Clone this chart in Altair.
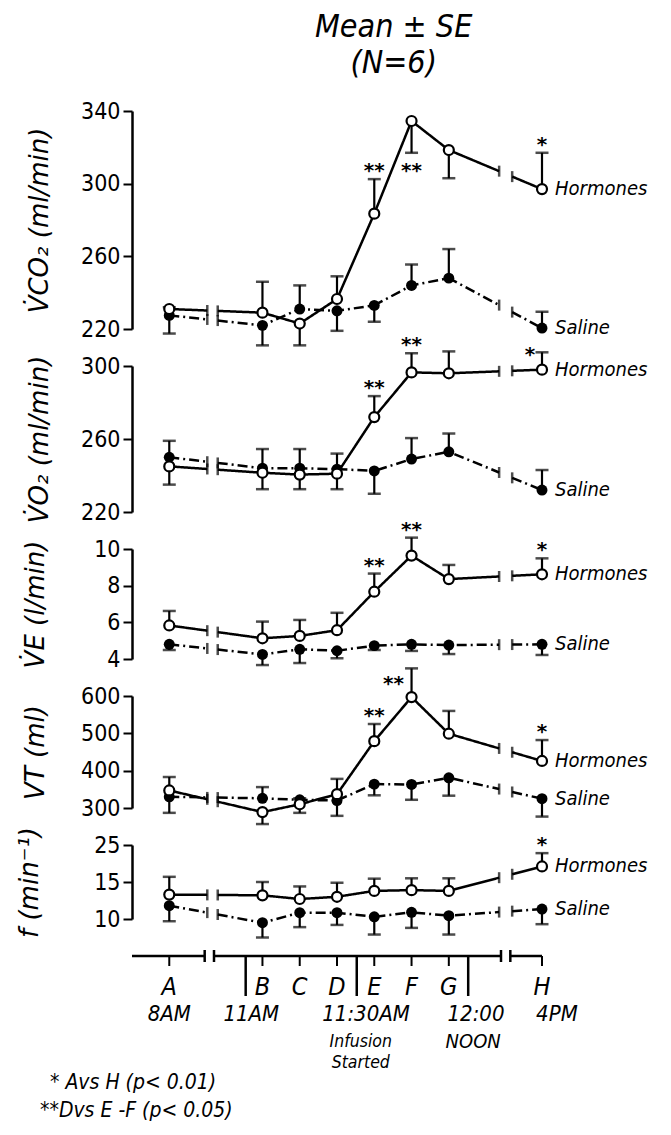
import altair as alt
import numpy as np
import pandas as pd

# ------------------------------------------------------------------ data
letters = ["A", "B", "C", "D", "E", "F", "G", "H"]
# place of each sampling time on the (broken) time axis
time_pos = [0.0, 2.5, 3.5, 4.5, 5.5, 6.5, 7.5, 10.0]

# VCO2 (ml/min): means and the end of each SE bar
vco2_hormones = [231, 229, 223, 236.5, 283.5, 334.5, 318.5, 297]
vco2_hormones_se = [232, 246, 211, 249, 302.5, 317, 303, 317]
vco2_saline = [227.5, 222, 231, 230, 233, 244, 248, 220.5]
vco2_saline_se = [217.5, 211, 244, 219, 224, 255.5, 264, 229.5]

# VO2 (ml/min)
vo2_hormones = [245, 241.5, 240.5, 241, 272, 296.5, 296, 298]
vo2_hormones_se = [235, 232.5, 232.5, 232.5, 283.5, 307, 308, 307.5]
vo2_saline = [250, 244, 244, 243.5, 242.5, 249, 253, 232]
vo2_saline_se = [259, 254.5, 254.5, 252, 230, 260.5, 263, 243]

# VE (l/min)
ve_hormones = [5.83, 5.13, 5.26, 5.57, 7.67, 9.64, 8.36, 8.62]
ve_hormones_se = [6.62, 6.04, 6.13, 6.52, 8.66, 10.62, 9.13, 9.49]
ve_saline = [4.8, 4.25, 4.53, 4.45, 4.73, 4.8, 4.76, 4.8]
ve_saline_se = [4.49, 3.67, 3.78, 4.04, 4.49, 4.44, 4.27, 4.22]

# VT (ml)
vt_hormones = [347, 289, 310, 337, 479, 597, 499, 426]
vt_hormones_se = [383, 257, 287, 378, 525, 674, 560, 482]
vt_saline = [330, 326, 322, 320, 364, 363, 381, 325]
vt_saline_se = [287, 356, 326, 279, 334, 322, 333, 277]

# f (min-1)
f_hormones = [13.3, 13.2, 12.7, 13.0, 13.8, 13.9, 13.8, 17.1]
f_hormones_se = [15.7, 15.0, 14.4, 14.9, 15.45, 15.5, 15.5, 18.9]
f_saline = [11.8, 9.5, 10.85, 10.85, 10.3, 10.9, 10.45, 11.35]
f_saline_se = [9.7, 7.5, 8.9, 9.2, 7.9, 8.8, 7.9, 9.3]

# significance marks on the Hormones series
vco2_sig = {"E": "**", "F": "**", "H": "*"}
vo2_sig = {"E": "**", "F": "**", "H": "*"}
ve_sig = {"E": "**", "F": "**", "H": "*"}
vt_sig = {"E": "**", "F": "**", "H": "*"}
f_sig = {"H": "*"}

# bottom time axis
clock_ticks = [2.05, 5.03, 8.02]                 # 11AM, 11:30AM, 12:00
clock_labels = ["8AM", "11AM", "11:30AM", "12:00", "4PM"]
clock_label_pos = [0.0, 2.2, 5.28, 8.23, 10.4]
footnotes = ["* Avs H (p< 0.01)", "**Dvs E  -F (p< 0.05)"]

# ------------------------------------------------------------------ style
FONT = "Liberation Sans Narrow, DejaVu Sans Condensed, sans-serif"
TFONT = "DejaVu Sans, sans-serif"
W = 410
XDOM = [-1, 10]
LINE_BREAKS = [(1.02, 1.3), (8.85, 9.2)]
AXIS_BREAKS = [(0.95, 1.2), (8.9, 9.15)]

xs = alt.Scale(domain=XDOM, nice=False, zero=False)


def segments(vals):
    x = np.array(time_pos)
    y = np.array(vals, dtype=float)

    def yi(t):
        return float(np.interp(t, x, y))

    (b1l, b1r), (b2l, b2r) = LINE_BREAKS
    segs = [
        [(x[0], y[0]), (b1l, yi(b1l))],
        [(b1r, yi(b1r))] + [(x[i], y[i]) for i in range(1, 7)] + [(b2l, yi(b2l))],
        [(b2r, yi(b2r)), (x[7], y[7])],
    ]
    rows, ticks = [], []
    for k, s in enumerate(segs):
        for px, py in s:
            rows.append({"seg": k, "pos": px, "value": py})
    for t in (b1l, b1r, b2l, b2r):
        ticks.append({"pos": t, "value": yi(t)})
    return rows, ticks


def panel(h, h_se, s, s_se, domain, ticks, title, height, sig,
          label_expr=None, title_x=-93, sig_shift=None):
    sig_shift = sig_shift or {}
    rows = []
    for series, vals, se in (("Hormones", h, h_se), ("Saline", s, s_se)):
        for L, p, v, e in zip(letters, time_pos, vals, se):
            rows.append({"series": series, "letter": L, "pos": p,
                         "value": v, "se_end": e})
    pts = pd.DataFrame(rows)

    seg_rows, tick_rows = [], []
    for series, vals in (("Hormones", h), ("Saline", s)):
        r, t = segments(vals)
        for d in r:
            d["series"] = series
        for d in t:
            d["series"] = series
        seg_rows += r
        tick_rows += t
    segdf = pd.DataFrame(seg_rows)
    segdf["key"] = segdf["series"] + segdf["seg"].astype(str)
    brk = pd.DataFrame(tick_rows)

    ysc = alt.Scale(domain=domain, nice=False, zero=False)
    axis_kw = dict(values=ticks, title=title, titleX=title_x, titleY=height / 2,
                   titleAngle=270, titleAlign="center", titleBaseline="middle",
                   titleFont=TFONT, titleFontSize=26, titleFontStyle="italic",
                   titleFontWeight="normal", titleColor="black",
                   labelFont=FONT, labelFontSize=23, labelColor="black",
                   labelPadding=3, domainColor="black", domainWidth=2.5,
                   tickColor="black", tickWidth=2, tickSize=9, grid=False)
    if label_expr:
        axis_kw["labelExpr"] = label_expr
    yax = alt.Axis(**axis_kw)
    X = alt.X("pos:Q", scale=xs, axis=None)

    def Y(field):
        return alt.Y(field + ":Q", scale=ysc, axis=yax)

    lines = alt.Chart(segdf).mark_line(color="black", strokeWidth=2.5).encode(
        x=X, y=Y("value"), detail="key:N",
        strokeDash=alt.StrokeDash("series:N", legend=None, scale=alt.Scale(
            domain=["Hormones", "Saline"], range=[[1, 0], [10, 4, 2, 4]])),
    )
    brk_ticks = alt.Chart(brk).mark_tick(color="black", orient="vertical",
                                         size=11, thickness=2.5).encode(
        x=X, y=Y("value"))
    rules = alt.Chart(pts).mark_rule(color="black", strokeWidth=2.2).encode(
        x=X, y=Y("value"), y2="se_end:Q")
    caps = alt.Chart(pts).mark_tick(color="black", orient="horizontal",
                                    size=13, thickness=2.5).encode(
        x=X, y=Y("se_end"))
    sal = alt.Chart(pts).transform_filter("datum.series == 'Saline'").mark_circle(
        color="black", size=120, opacity=1).encode(x=X, y=Y("value"))
    hor = alt.Chart(pts).transform_filter("datum.series == 'Hormones'").mark_point(
        shape="circle", filled=True, fill="white", stroke="black",
        strokeWidth=2.2, size=100, opacity=1).encode(x=X, y=Y("value"))
    labels = alt.Chart(pts).transform_filter("datum.letter == 'H'").mark_text(
        align="left", baseline="middle", dx=13, font=FONT, fontSize=20,
        fontStyle="italic", color="black").encode(x=X, y=Y("value"), text="series:N")

    layers = [lines, brk_ticks, rules, caps, sal, hor, labels]
    hpts = pts[pts.series == "Hormones"].set_index("letter")
    for L, txt in sig.items():
        row = hpts.loc[L]
        up = row.se_end >= row.value
        dx, dy = sig_shift.get(L, (0, -13 if up else 13))
        d = pd.DataFrame({"pos": [row.pos], "se_end": [row.se_end], "t": [txt]})
        layers.append(alt.Chart(d).mark_text(
            font=TFONT, fontSize=20, fontWeight="bold", baseline="middle",
            dx=dx, dy=dy + 5, color="black").encode(x=X, y=Y("se_end"), text="t:N"))
    return alt.layer(*layers).properties(width=W, height=height)


p1 = panel(vco2_hormones, vco2_hormones_se, vco2_saline, vco2_saline_se,
           [220, 340], [220, 260, 300, 340], "V\u0307CO\u2082    (ml/min)", 218, vco2_sig)
p2 = panel(vo2_hormones, vo2_hormones_se, vo2_saline, vo2_saline_se,
           [220, 300], [220, 260, 300], "V\u0307O\u2082  (ml/min)", 146, vo2_sig,
           sig_shift={"H": (-12, -2)})
p3 = panel(ve_hormones, ve_hormones_se, ve_saline, ve_saline_se,
           [4, 10], [4, 6, 8, 10], "V\u0307E (l/min)", 110, ve_sig, title_x=-97)
p4 = panel(vt_hormones, vt_hormones_se, vt_saline, vt_saline_se,
           [300, 600], [300, 400, 500, 600], "VT   (ml)", 112, vt_sig,
           title_x=-97, sig_shift={"F": (-18, 11)})
p5 = panel(f_hormones, f_hormones_se, f_saline, f_saline_se,
           [10, 20], [10, 15, 20], "f (min\u207b\u00b9)", 74, f_sig,
           label_expr="datum.value == 20 ? '25' : datum.label", title_x=-103)

# ------------------------------------------------------------------ time axis
Xb = alt.X("pos:Q", scale=xs, axis=None)
seg_df = pd.DataFrame({"pos": [XDOM[0], AXIS_BREAKS[0][1], AXIS_BREAKS[1][1]],
                       "pos2": [AXIS_BREAKS[0][0], AXIS_BREAKS[1][0], XDOM[1]]})
brk_df = pd.DataFrame({"pos": [b for pair in AXIS_BREAKS for b in pair]})
let_df = pd.DataFrame({"pos": time_pos, "letter": letters})
clk_df = pd.DataFrame({"pos": clock_ticks})
clab_df = pd.DataFrame({"pos": clock_label_pos, "label": clock_labels})

axis_line = alt.Chart(seg_df).mark_rule(color="black", strokeWidth=2.5).encode(
    x=Xb, x2="pos2:Q", y=alt.value(0))
axis_brk = alt.Chart(brk_df).mark_rule(color="black", strokeWidth=2.5).encode(
    x=Xb, y=alt.value(-6), y2=alt.value(6))
short_t = alt.Chart(let_df).mark_rule(color="black", strokeWidth=2).encode(
    x=Xb, y=alt.value(0), y2=alt.value(10))
long_t = alt.Chart(clk_df).mark_rule(color="black", strokeWidth=2.5).encode(
    x=Xb, y=alt.value(0), y2=alt.value(40))
let_t = alt.Chart(let_df).mark_text(font=FONT, fontSize=25, fontStyle="italic",
                                    baseline="middle", color="black").encode(
    x=Xb, y=alt.value(31), text="letter:N")
clk_t = alt.Chart(clab_df).mark_text(font=FONT, fontSize=22, fontStyle="italic",
                                     baseline="middle", color="black").encode(
    x=Xb, y=alt.value(58), text="label:N")
inf1 = alt.Chart(pd.DataFrame({"pos": [clock_ticks[1]], "t": ["Infusion"]})).mark_text(
    font=FONT, fontSize=17.5, fontStyle="italic", baseline="middle", dx=4,
    color="black").encode(x=Xb, y=alt.value(86), text="t:N")
inf2 = alt.Chart(pd.DataFrame({"pos": [clock_ticks[1]], "t": ["Started"]})).mark_text(
    font=FONT, fontSize=17.5, fontStyle="italic", baseline="middle", dx=4,
    color="black").encode(x=Xb, y=alt.value(107), text="t:N")
noon = alt.Chart(pd.DataFrame({"pos": [clock_ticks[2]], "t": ["NOON"]})).mark_text(
    font=FONT, fontSize=20, fontStyle="italic", baseline="middle", dx=5,
    color="black").encode(x=Xb, y=alt.value(86), text="t:N")
fn1 = alt.Chart(pd.DataFrame({"t": [footnotes[0]]})).mark_text(
    font=FONT, fontSize=21, fontStyle="italic", align="left", baseline="middle",
    color="black").encode(x=alt.value(-82), y=alt.value(127), text="t:N")
fn2 = alt.Chart(pd.DataFrame({"t": [footnotes[1]]})).mark_text(
    font=FONT, fontSize=21, fontStyle="italic", align="left", baseline="middle",
    color="black").encode(x=alt.value(-92), y=alt.value(155), text="t:N")

bottom = alt.layer(axis_line, axis_brk, short_t, long_t, let_t, clk_t,
                   inf1, inf2, noon, fn1, fn2).properties(width=W, height=120)

chart = alt.vconcat(p1, p2, p3, p4, p5, bottom, spacing=37, bounds="flush").resolve_scale(
    y="independent").properties(
    title=alt.TitleParams(["Mean \u00b1 SE", "(N=6)"], font=FONT, fontSize=32,
                          fontStyle="italic", fontWeight="normal", color="black",
                          anchor="middle", dx=62, lineHeight=36, offset=20),
    padding={"left": 8, "top": 3, "right": 5, "bottom": 0},
).configure(background="white").configure_view(stroke=None)

chart.save("out.html", embed_options={"renderer": "svg", "actions": False})
